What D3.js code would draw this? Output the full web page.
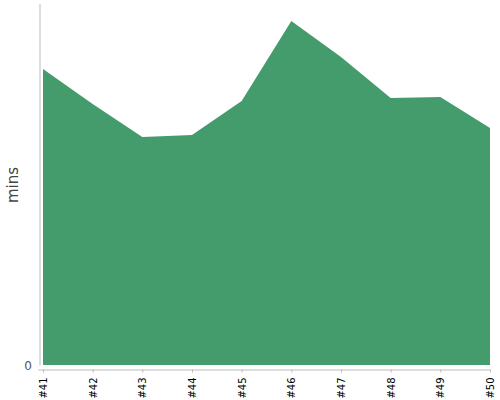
<!DOCTYPE html>
<html>
<head>
<meta charset="utf-8">
<script src="https://cdn.jsdelivr.net/npm/d3@7"></script>
<style>
  body { margin: 0; background: #fff; }
  svg text { font-family: "DejaVu Sans", sans-serif; }
</style>
</head>
<body>
<div id="chart"></div>
<script>
// Data
var categories = ["#41", "#42", "#43", "#44", "#45", "#46", "#47", "#48", "#49", "#50"];
var minutes = [29.6, 26.1, 22.8, 23.0, 26.4, 34.4, 30.8, 26.7, 26.8, 23.7];
var yTicks = [0];
var yMax = 36;

var margin = { top: 5, right: 10, bottom: 35, left: 43 },
  width = 500 - margin.left - margin.right,
  height = 400 - margin.top - margin.bottom;

var svg = d3.select("#chart").append("svg")
  .attr("width", 500)
  .attr("height", 400);

var g = svg.append("g")
  .attr("transform", "translate(" + margin.left + "," + margin.top + ")");

var x = d3.scalePoint().domain(categories).range([0, width]);
var y = d3.scaleLinear().domain([0, yMax]).range([height, 0]);

var data = categories.map(function(c, i) { return { cat: c, value: minutes[i] }; });

//The area
var area = d3.area()
  .x(function(d) { return x(d.cat); })
  .y0(y(0))
  .y1(function(d) { return y(d.value); });

g.append("path")
  .datum(data)
  .attr("d", area)
  .style("fill", "#449c6c");

//Y axis, a few px left of the plot
var yAxis = svg.append("g")
  .attr("transform", "translate(" + (margin.left - 3) + "," + margin.top + ")")
  .call(d3.axisLeft(y).tickValues(yTicks).tickSize(0).tickSizeOuter(0).tickPadding(8));
yAxis.select(".domain").attr("d", "M0,-1V" + (height + 0.5)).style("stroke", "#bbb");
yAxis.selectAll("text")
  .attr("fill", "#555")
  .style("font-family", "'DejaVu Sans', sans-serif")
  .style("font-size", "12px")
  .attr("dy", "0.35em");

//X axis, a few px below the plot
var xAxis = svg.append("g")
  .attr("transform", "translate(" + margin.left + "," + (margin.top + height + 4.5) + ")")
  .call(d3.axisBottom(x).tickSize(3).tickSizeOuter(0));
xAxis.select(".domain").attr("d", "M-4.5,0.5H" + width).style("stroke", "#bbb");
xAxis.selectAll(".tick line").style("stroke", "#bbb");
xAxis.selectAll("text")
  .attr("fill", "#000")
  .style("font-family", "'DejaVu Sans', sans-serif")
  .style("font-size", "10px")
  .attr("text-anchor", "end")
  .attr("transform", "rotate(-90)")
  .attr("x", -8)
  .attr("y", 0)
  .attr("dy", "0.35em");

//Axis title
svg.append("text")
  .attr("transform", "translate(18," + (margin.top + height / 2) + ") rotate(-90)")
  .attr("text-anchor", "middle")
  .style("font-size", "15px")
  .style("fill", "#444")
  .text("mins");
</script>
</body>
</html>
